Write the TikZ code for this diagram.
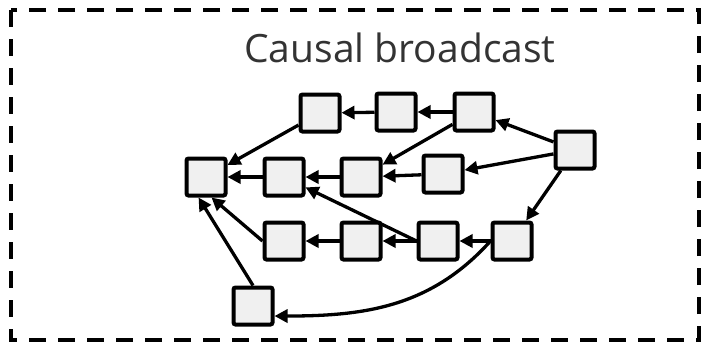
\documentclass[tikz,border=0pt]{standalone}
\usepackage{fontspec}
\setmainfont{Open Sans}
\usetikzlibrary{arrows.meta}
\definecolor{boxfill}{HTML}{F0F0F0}
\definecolor{titlegray}{HTML}{333333}
\tikzset{
	msg/.style = { draw, line width=4pt, fill=boxfill, rounded corners=2pt,
		minimum width=39pt, minimum height=37pt, inner sep=0pt },
	dep/.style = { line width=3.3pt },
	frame/.style = { line width=3.8pt, dash pattern=on 17pt off 12pt },
	>={Triangle[length=13pt,width=13pt]}
}

\begin{document}
\begin{tikzpicture}[x=1pt, y=-1pt]
	\useasboundingbox (0,0) rectangle (703,343);
	\draw [ frame ] (11,10) rectangle (699,340);
	\node (title) [ anchor=base, text=titlegray ] at (400,62)
		{ \fontsize{39}{41}\selectfont Causal broadcast };
	\node [ msg ] (t1) at (320,113) {};
	\node [ msg ] (t2) at (396,112) {};
	\node [ msg ] (t3) at (474,112) {};
	\node [ msg ] (m1) at (206,177) {};
	\node [ msg ] (m2) at (284,177) {};
	\node [ msg ] (m3) at (361,177) {};
	\node [ msg ] (m4) at (443,174) {};
	\node [ msg ] (r) at (575,150) {};
	\node [ msg ] (b1) at (284,241) {};
	\node [ msg ] (b2) at (361,241) {};
	\node [ msg ] (b3) at (438,241) {};
	\node [ msg ] (b4) at (512,241) {};
	\node [ msg ] (e) at (253,306) {};
	\draw [ dep, -> ] (t1) to (m1);
	\draw [ dep, -> ] (t2) to (t1);
	\draw [ dep, -> ] (t3) to (t2);
	\draw [ dep, -> ] (t3) to (m3);
	\draw [ dep, -> ] (r) to (t3);
	\draw [ dep, -> ] (r) to (m4);
	\draw [ dep, -> ] (r) to (b4);
	\draw [ dep, -> ] (m4) to (m3);
	\draw [ dep, -> ] (m3) to (m2);
	\draw [ dep, -> ] (b3.west) to (m2);
	\draw [ dep, -> ] (m2) to (m1);
	\draw [ dep, -> ] (b1.west) to (m1.-75);
	\draw [ dep, -> ] (e.north) to (m1.-110);
	\draw [ dep, -> ] (b2) to (b1);
	\draw [ dep, -> ] (b3) to (b2);
	\draw [ dep, -> ] (b4) to (b3);
	\draw [ dep, -> ] (b4.west) to [ out=228, in=0 ] (e.-25);
\end{tikzpicture}
\end{document}
